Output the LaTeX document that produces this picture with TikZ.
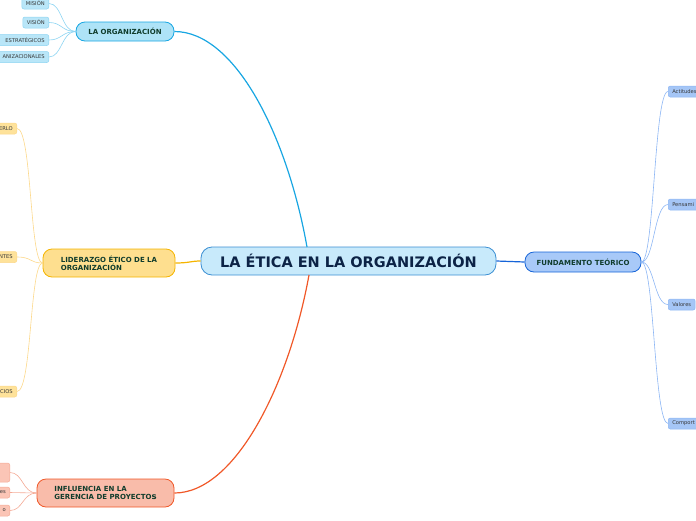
\documentclass[tikz,border=0pt]{standalone}
\usepackage{fontspec}
\setmainfont{DejaVu Sans}
\usepackage{xcolor}
\definecolor{cfill}{RGB}{200,234,251}
\definecolor{cline}{RGB}{59,143,211}
\definecolor{ctext}{RGB}{12,35,70}
\definecolor{btext}{RGB}{16,60,44}
\definecolor{otext}{RGB}{55,55,55}
\definecolor{aline}{RGB}{24,166,226}
\definecolor{afill}{RGB}{174,227,247}
\definecolor{asub}{RGB}{185,230,248}
\definecolor{asubl}{RGB}{140,212,242}
\definecolor{bline}{RGB}{245,180,0}
\definecolor{bfill}{RGB}{254,223,143}
\definecolor{bsub}{RGB}{254,226,154}
\definecolor{bsubl}{RGB}{252,216,138}
\definecolor{rline}{RGB}{240,88,40}
\definecolor{rfill}{RGB}{249,188,170}
\definecolor{rsub}{RGB}{251,197,182}
\definecolor{rsubl}{RGB}{244,170,150}
\definecolor{fline}{RGB}{22,100,216}
\definecolor{ffill}{RGB}{168,201,248}
\definecolor{fsub}{RGB}{165,198,246}
\definecolor{fsubl}{RGB}{140,182,244}

\begin{document}
\begin{tikzpicture}[x=1pt,y=-1pt,
  central/.style={draw=cline, fill=cfill, line width=0.8pt, rounded corners=11pt,
    minimum width=295pt, minimum height=28pt, inner sep=0pt,
    font=\fontsize{14.5}{16}\selectfont\bfseries, text=ctext},
  branch/.style={line width=0.8pt, rounded corners=9pt, inner sep=0pt, align=left,
    font=\fontsize{7}{8.2}\selectfont\bfseries, text=btext},
  leaf/.style={line width=0.5pt, rounded corners=2pt, inner xsep=4pt, inner ysep=0pt,
    minimum height=11pt, font=\fontsize{5.2}{6}\selectfont, text=otext},
  link/.style={line width=1.2pt},
  twig/.style={line width=0.6pt}]
\useasboundingbox (0,0) rectangle (696,520);

% centre
\node[central] (etica) at (348.5,261) {LA ÉTICA EN LA ORGANIZACIÓN};
\coordinate (e1) at (307,247);
\coordinate (e2) at (309,275);

% main branches
\node[branch, draw=aline, fill=afill, minimum width=98pt, minimum height=19pt] (org) at (125,31.5) {LA ORGANIZACIÓN};
\node[branch, draw=bline, fill=bfill, minimum width=132pt, minimum height=28pt] (lid) at (109,263) {LIDERAZGO ÉTICO DE LA\\ORGANIZACIÓN};
\node[branch, draw=rline, fill=rfill, minimum width=137pt, minimum height=28pt] (infl) at (105.5,493) {INFLUENCIA EN LA\\GERENCIA DE PROYECTO{\fontsize{8.5}{8}\selectfont s}};
\node[branch, draw=fline, fill=ffill, minimum width=116pt, minimum height=20pt] (fund) at (583,262) {FUNDAMENTO TEÓRICO};

\draw[link, aline] (e1) .. controls (287,135) and (235,31.5) .. (org.east);
\draw[link, bline] (etica.west) .. controls +(-10,0) and +(14,0) .. (lid.east);
\draw[link, rline] (e2) .. controls (289,385) and (235,493) .. (infl.east);
\draw[link, fline] (etica.east) -- (fund.west);

% la organizacion
\node[leaf, draw=asubl, fill=asub, anchor=east] (mis) at (49,3.5) {MISIÓN};
\node[leaf, draw=asubl, fill=asub, anchor=east] (vis) at (49,22.5) {VISIÓN};
\node[leaf, draw=asubl, fill=asub, anchor=east] (est) at (49,40) {\hspace{8pt}ESTRATÉGICOS};
\node[leaf, draw=asubl, fill=asub, anchor=east] (orgs) at (49,57) {\hspace{8pt}ANIZACIONALES};
\foreach \s in {mis,vis,est,orgs}
  \draw[twig, asubl] (org.west) .. controls +(-14,0) and +(13,0) .. (\s.east);

% liderazgo
\node[leaf, draw=bsubl, fill=bsub, anchor=east] (l1) at (17,128.5) {\hspace{12pt}ERLO};
\node[leaf, draw=bsubl, fill=bsub, anchor=east] (l2) at (17,257) {\hspace{12pt}NTES};
\node[leaf, draw=bsubl, fill=bsub, anchor=east] (l3) at (17,391.5) {\hspace{12pt}CIOS};
\foreach \s in {l1,l2,l3}
  \draw[twig, bsubl] (lid.west) .. controls +(-13,0) and +(15,0) .. (\s.east);

% influencia
\node[leaf, draw=rsubl, fill=rsub, anchor=east, minimum width=30pt, minimum height=19pt] (i1) at (10,472.5) {};
\node[leaf, draw=rsubl, fill=rsub, anchor=east] (i2) at (10,492.5) {\hspace{14pt}res};
\node[leaf, draw=rsubl, fill=rsub, anchor=east] (i3) at (10,510.5) {\hspace{18pt}o};
\foreach \s in {i1,i2,i3}
  \draw[twig, rsubl] (infl.west) .. controls +(-14,0) and +(13,0) .. (\s.east);

% fundamento
\node[leaf, draw=fsubl, fill=fsub, anchor=west] (f1) at (668,91.5) {Actitudes\hspace{12pt}};
\node[leaf, draw=fsubl, fill=fsub, anchor=west] (f2) at (668,204.5) {Pensami\hspace{14pt}};
\node[leaf, draw=fsubl, fill=fsub, anchor=west] (f3) at (668,304.5) {Valores\hspace{14pt}};
\node[leaf, draw=fsubl, fill=fsub, anchor=west] (f4) at (668,423.5) {Comport\hspace{14pt}};
\foreach \s in {f1,f2,f3,f4}
  \draw[twig, fsubl] (fund.east) .. controls +(13,0) and +(-14,0) .. (\s.west);
\end{tikzpicture}
\end{document}
